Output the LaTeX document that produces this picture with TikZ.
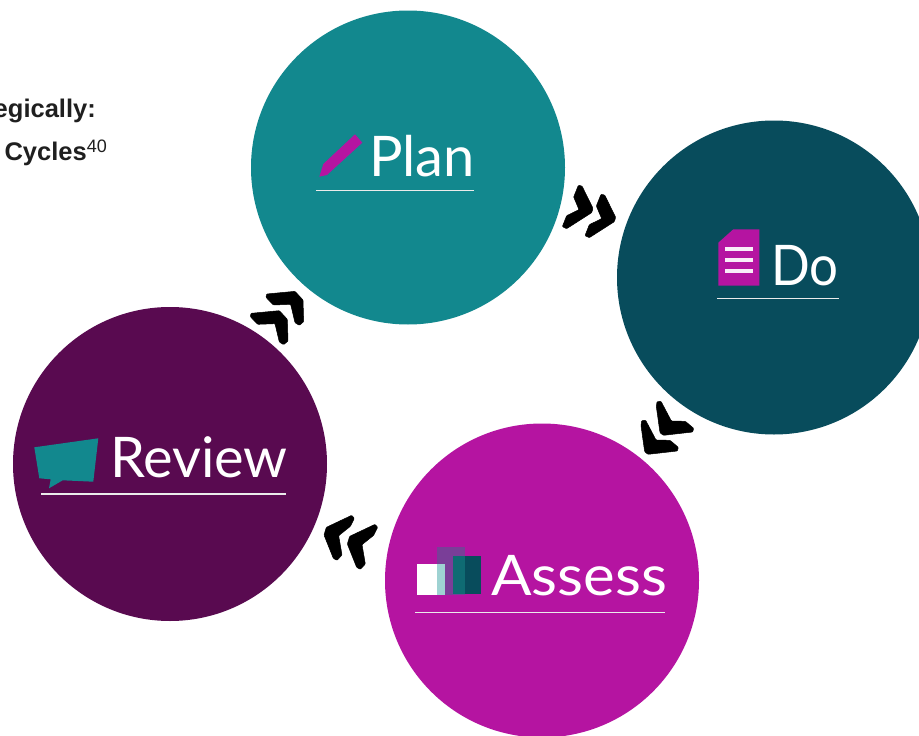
\documentclass[tikz,border=0pt]{standalone}
\usepackage{fontspec}
\setmainfont{Liberation Sans}
\newfontfamily\lblfont{Lato}
\definecolor{cteal}{HTML}{12888E}
\definecolor{cdark}{HTML}{084C5C}
\definecolor{cplum}{HTML}{590A50}
\definecolor{cmag}{HTML}{B514A1}
\definecolor{clight}{HTML}{9ED2D2}
\definecolor{cviol}{HTML}{7A3E98}
\definecolor{cmidt}{HTML}{0F6B73}
\tikzset{
  disc/.style={circle,minimum size=314pt,inner sep=0pt,outer sep=0pt},
  lbl/.style={anchor=base west,inner sep=0pt,outer sep=0pt,text=white,font=\lblfont\fontsize{56}{56}\selectfont},
  rule/.style={draw=white!92!black,line width=1.2pt},
  chev/.style={fill=black,draw=black,line width=0.5pt,rounded corners=0.8pt},
  headtxt/.style={anchor=base east,inner sep=0pt,text=black!88,font=\bfseries\fontsize{25.5}{25.5}\selectfont}
}
\begin{document}
\begin{tikzpicture}[x=1pt,y=-1pt]
\useasboundingbox (0,0) rectangle (919,736);
\clip (0,0) rectangle (919,736);
\fill[white] (0,0) rectangle (919,736);
\node[disc,fill=cteal] (plan) at (408,167.5) {};
\node[disc,fill=cdark] (do) at (774,277.5) {};
\node[disc,fill=cplum] (review) at (170,464) {};
\node[disc,fill=cmag] (assess) at (542,580.5) {};
% header text
\node[headtxt] (h1) at (96,117) {egically:};
\node[headtxt] (h2) at (107,160) {Cycles\raisebox{8pt}{\fontsize{18}{18}\selectfont\mdseries 40}};
% Plan
\fill[cmag] (355,134.3) -- (362.3,142.7) -- (327,175) -- (319.3,176.7) -- (323.3,164) -- cycle;
\node[lbl] (tplan) at (369,176.7) {Plan};
\draw[rule] (316,190.5) -- (474,190.5);
% Do
\fill[cmag] (733.3,229.3) -- (759.3,229.3) -- (759.3,285.7) -- (718.3,285.7) -- (718.3,242.7) -- cycle;
\fill[white!92!cmag] (725.3,247) rectangle (753,251);
\fill[white!92!cmag] (725.3,258) rectangle (753,262);
\fill[white!92!cmag] (725.3,269) rectangle (753,273);
\node[lbl] (tdo) at (771,285.5) {\scalebox{0.91}[1]{Do}};
\draw[rule] (717,298.5) -- (839,298.5);
% Assess
\fill[cviol] (437,547) rectangle (465,595);
\fill[white] (417,564) rectangle (437,595);
\fill[clight] (437,564) rectangle (445,595);
\fill[cmidt] (453,556) rectangle (465,594);
\fill[cdark] (465,556) rectangle (481,594);
\node[lbl] (tassess) at (491,595.5) {\scalebox{1.07}[1]{Assess}};
\draw[rule] (415,612.5) -- (664.5,612.5);
% Review
\fill[cteal] (34.3,447.3) -- (98.3,438.3) -- (93.3,481.7) -- (62.7,480.3) -- (49,488.3) -- (50.7,479.3) -- (39.3,478.3) -- cycle;
\node[lbl] (treview) at (110,477) {Review};
\draw[rule] (41,494) -- (286,494);
% chevrons Plan -> Do
\begin{scope}[shift={(550,175)},x=1/3*1pt,y=-1/3*1pt]
\foreach \dx/\dy in {0/0,68/27}{
\fill[chev,shift={(\dx,\dy)}] (85,31) -- (96,33) -- (129,100) -- (125,113) -- (50,161) -- (37,155) -- (50,122) -- (87,104) -- (71,66) -- cycle;}
\end{scope}
% chevrons Do -> Assess
\begin{scope}[shift={(630,390)},x=1/3*1pt,y=-1/3*1pt]
\foreach \dx/\dy in {0/0,-46/57}{
\fill[chev,shift={(\dx,\dy)}] (81,35) -- (93,34) -- (124,93) -- (166,94) -- (191,115) -- (188,126) -- (100,136) -- (90,128) -- (79,50) -- cycle;}
\end{scope}
% chevrons Assess -> Review
\begin{scope}[shift={(315,505)},x=1/3*1pt,y=-1/3*1pt]
\foreach \dx/\dy in {0/0,70/27}{
\fill[chev,shift={(\dx,\dy)}] (110,31) -- (118,40) -- (106,64) -- (71,92) -- (81,150) -- (66,166) -- (55,160) -- (27,90) -- (34,67) -- cycle;}
\end{scope}
% chevrons Review -> Plan
\begin{scope}[shift={(240,280)},x=1/3*1pt,y=-1/3*1pt]
\foreach \dx/\dy in {0/0,-47/58}{
\fill[chev,shift={(\dx,\dy)}] (80,42) -- (165,34) -- (189,60) -- (191,125) -- (178,136) -- (165,128) -- (152,73) -- (100,75) -- (78,52) -- cycle;}
\end{scope}
\end{tikzpicture}
\end{document}
